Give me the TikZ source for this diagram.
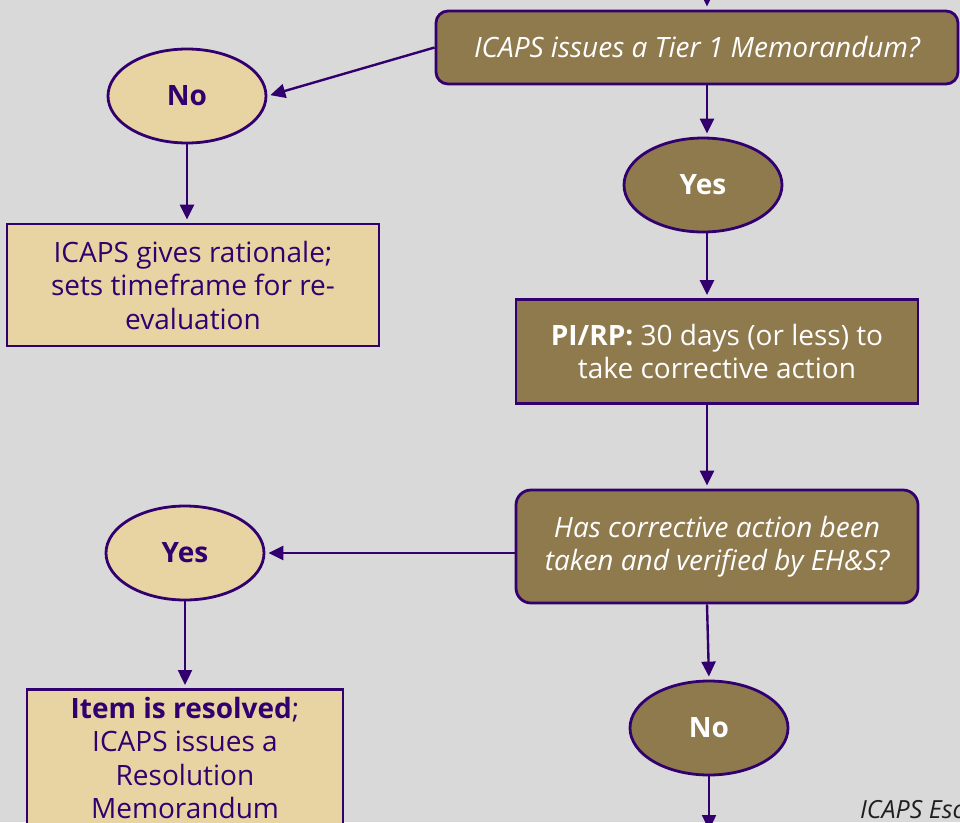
\documentclass[tikz,border=0pt]{standalone}
\usepackage{fontspec}
\setmainfont{Open Sans}
\usetikzlibrary{shapes.geometric,arrows.meta}
\definecolor{bgc}{HTML}{D9D9D9}
\definecolor{goldc}{HTML}{8F7A4E}
\definecolor{sandc}{HTML}{E8D3A2}
\definecolor{uwp}{HTML}{32006E}
\newcommand{\mfs}{\fontsize{28}{33.5}\selectfont}
\begin{document}
\begin{tikzpicture}[x=1pt,y=-1pt,
  base/.style={draw=uwp, line width=2.8pt, align=center, inner sep=0pt, font=\mfs},
  darkbox/.style={base, fill=goldc, text=white},
  lightbox/.style={base, fill=sandc, text=uwp},
  darkoval/.style={darkbox, ellipse, minimum width=158pt, minimum height=94pt, font=\mfs\bfseries},
  lightoval/.style={lightbox, ellipse, minimum width=158pt, minimum height=94pt, font=\mfs\bfseries},
  conn/.style={draw=uwp, line width=2.4pt, -{Triangle[length=15pt,width=14pt]}, shorten >=3pt}
]
\clip (0,0) rectangle (960,822);
\fill[bgc] (0,0) rectangle (960,822);

\node[darkbox, rounded corners=12pt, minimum width=522pt, minimum height=73pt, font=\mfs\itshape] (q1) at (697,47.5) {ICAPS issues a Tier 1 Memorandum?};
\node[lightoval] (no1) at (187,96) {No};
\node[darkoval] (yes1) at (703,185) {Yes};
\node[lightbox, minimum width=372pt, minimum height=122pt] (rat) at (193,285) {ICAPS gives rationale;\\sets timeframe for re-\\evaluation};
\node[darkbox, minimum width=402pt, minimum height=104pt] (pirp) at (717,351.5) {\textbf{PI/RP:} 30 days (or less) to\\take corrective action};
\node[darkbox, rounded corners=15pt, minimum width=402pt, minimum height=113pt, font=\mfs\itshape] (q2) at (717,546.5) {Has corrective action been\\taken and verified by EH\&S?};
\node[lightoval] (yes2) at (185,553) {Yes};
\node[lightbox, minimum width=316pt, minimum height=150pt, anchor=north] (res) at (185,688) {};
\node[text=uwp, font=\mfs, align=center] (restext) at (185,758) {\textbf{Item is resolved};\\ICAPS issues a\\Resolution\\Memorandum};
\node[darkoval] (no2) at (709,728) {No};
\node[font=\fontsize{25}{28}\selectfont\itshape, text=black!88, anchor=base west, inner sep=0pt] (foot) at (860,818) {ICAPS Esc};

\coordinate (intop) at (707,-20);
\coordinate (outbot) at (709,830);

\draw[conn] (intop) -- (q1.north -| intop);
\draw[conn] (q1.west) -- (no1.east);
\draw[conn] (no1.south) -- (rat.north -| no1.south);
\draw[conn] (q1.south -| 707,0) -- (yes1.north -| 707,0);
\draw[conn] (yes1.south -| 707,0) -- (pirp.north -| 707,0);
\draw[conn] (pirp.south -| 707,0) -- (q2.north -| 707,0);
\draw[conn] (yes2.east -| q2.west) -- (yes2.east);
\draw[conn] (yes2.south) -- (res.north -| yes2.south);
\draw[conn] (q2.south -| 707,0) -- (no2.north);
\draw[conn, shorten >=0pt] (no2.south) -- (outbot);
\end{tikzpicture}
\end{document}
